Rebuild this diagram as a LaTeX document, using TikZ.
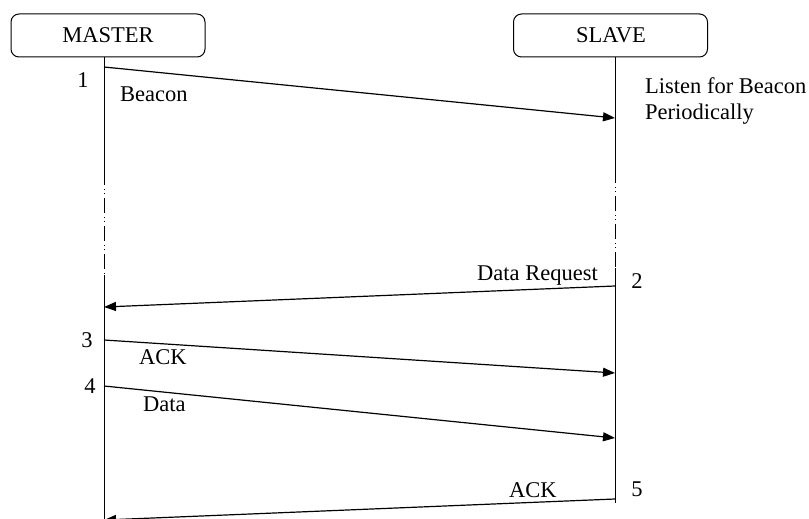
\documentclass[tikz,border=0pt]{standalone}
\usepackage{fontspec}
\setmainfont{Liberation Serif}
\usetikzlibrary{arrows.meta}
\begin{document}
\begin{tikzpicture}[x=1pt,y=-1pt,
  actor/.style={draw,rounded corners=8pt,line width=1pt,minimum width=194pt,minimum height=43pt,inner sep=0pt},
  lifeline/.style={line width=1pt},
  gapline/.style={line width=0.9pt,dash pattern=on 15pt off 4pt on 1pt off 3pt on 1pt off 4pt},
  msg/.style={line width=1.2pt,-{Triangle[length=12pt,width=9pt]}},
  lbl/.style={font=\fontsize{22.5}{27}\selectfont,inner sep=0pt,anchor=base},
  lblw/.style={lbl,anchor=base west},
  lble/.style={lbl,anchor=base east}]
\useasboundingbox (0,0) rectangle (809,519);
\clip (0,0) rectangle (809,519);

% participants
\node[actor] (master) at (108,35.5) {};
\node[lbl] (mastertxt) at (108,43) {MASTER};
\node[actor] (slave) at (610.5,35.5) {};
\node[lbl] (slavetxt) at (611,43) {SLAVE};

% lifeline break points
\coordinate (mtop) at (104,57);
\coordinate (mgapa) at (104,170);
\coordinate (mgapb) at (104,275);
\coordinate (mbot) at (104,525);
\coordinate (stop) at (615,57);
\coordinate (sgapa) at (615,168);
\coordinate (sgapb) at (615,268);
\coordinate (sbot) at (615,503);

\draw[lifeline] (mtop) -- (mgapa);
\draw[gapline] (mgapa) -- (mgapb);
\draw[lifeline] (mgapb) -- (mbot);
\draw[lifeline] (stop) -- (sgapa);
\draw[gapline] (sgapa) -- (sgapb);
\draw[lifeline] (sgapb) -- (sbot);

% message end points
\coordinate (m1) at (104,67);   \coordinate (s1) at (615,118);
\coordinate (s2) at (615,286);  \coordinate (m2) at (104,307);
\coordinate (m3) at (104,340);  \coordinate (s3) at (615,373);
\coordinate (m4) at (104,386);  \coordinate (s4) at (615,438);
\coordinate (s5) at (615,499);  \coordinate (m5) at (104,520);

\draw[msg] (m1) -- (s1);
\draw[msg] (s2) -- (m2);
\draw[msg] (m3) -- (s3);
\draw[msg] (m4) -- (s4);
\draw[msg] (s5) -- (m5);

% labels
\node[lbl] (n1) at (83,88) {1};
\node[lblw] (beacon) at (120,102) {Beacon};
\node[lblw] (listen) at (645,94) {Listen for Beacon};
\node[lblw] (period) at (645,119) {Periodically};
\node[lble] (dreq) at (598,280) {Data Request};
\node[lbl] (n2) at (637,288) {2};
\node[lbl] (n3) at (87,347) {3};
\node[lblw] (ack1) at (139,364) {ACK};
\node[lbl] (n4) at (90,393) {4};
\node[lblw] (data) at (143,411) {Data};
\node[lblw] (ack2) at (509,497) {ACK};
\node[lbl] (n5) at (637,496) {5};
\end{tikzpicture}
\end{document}
